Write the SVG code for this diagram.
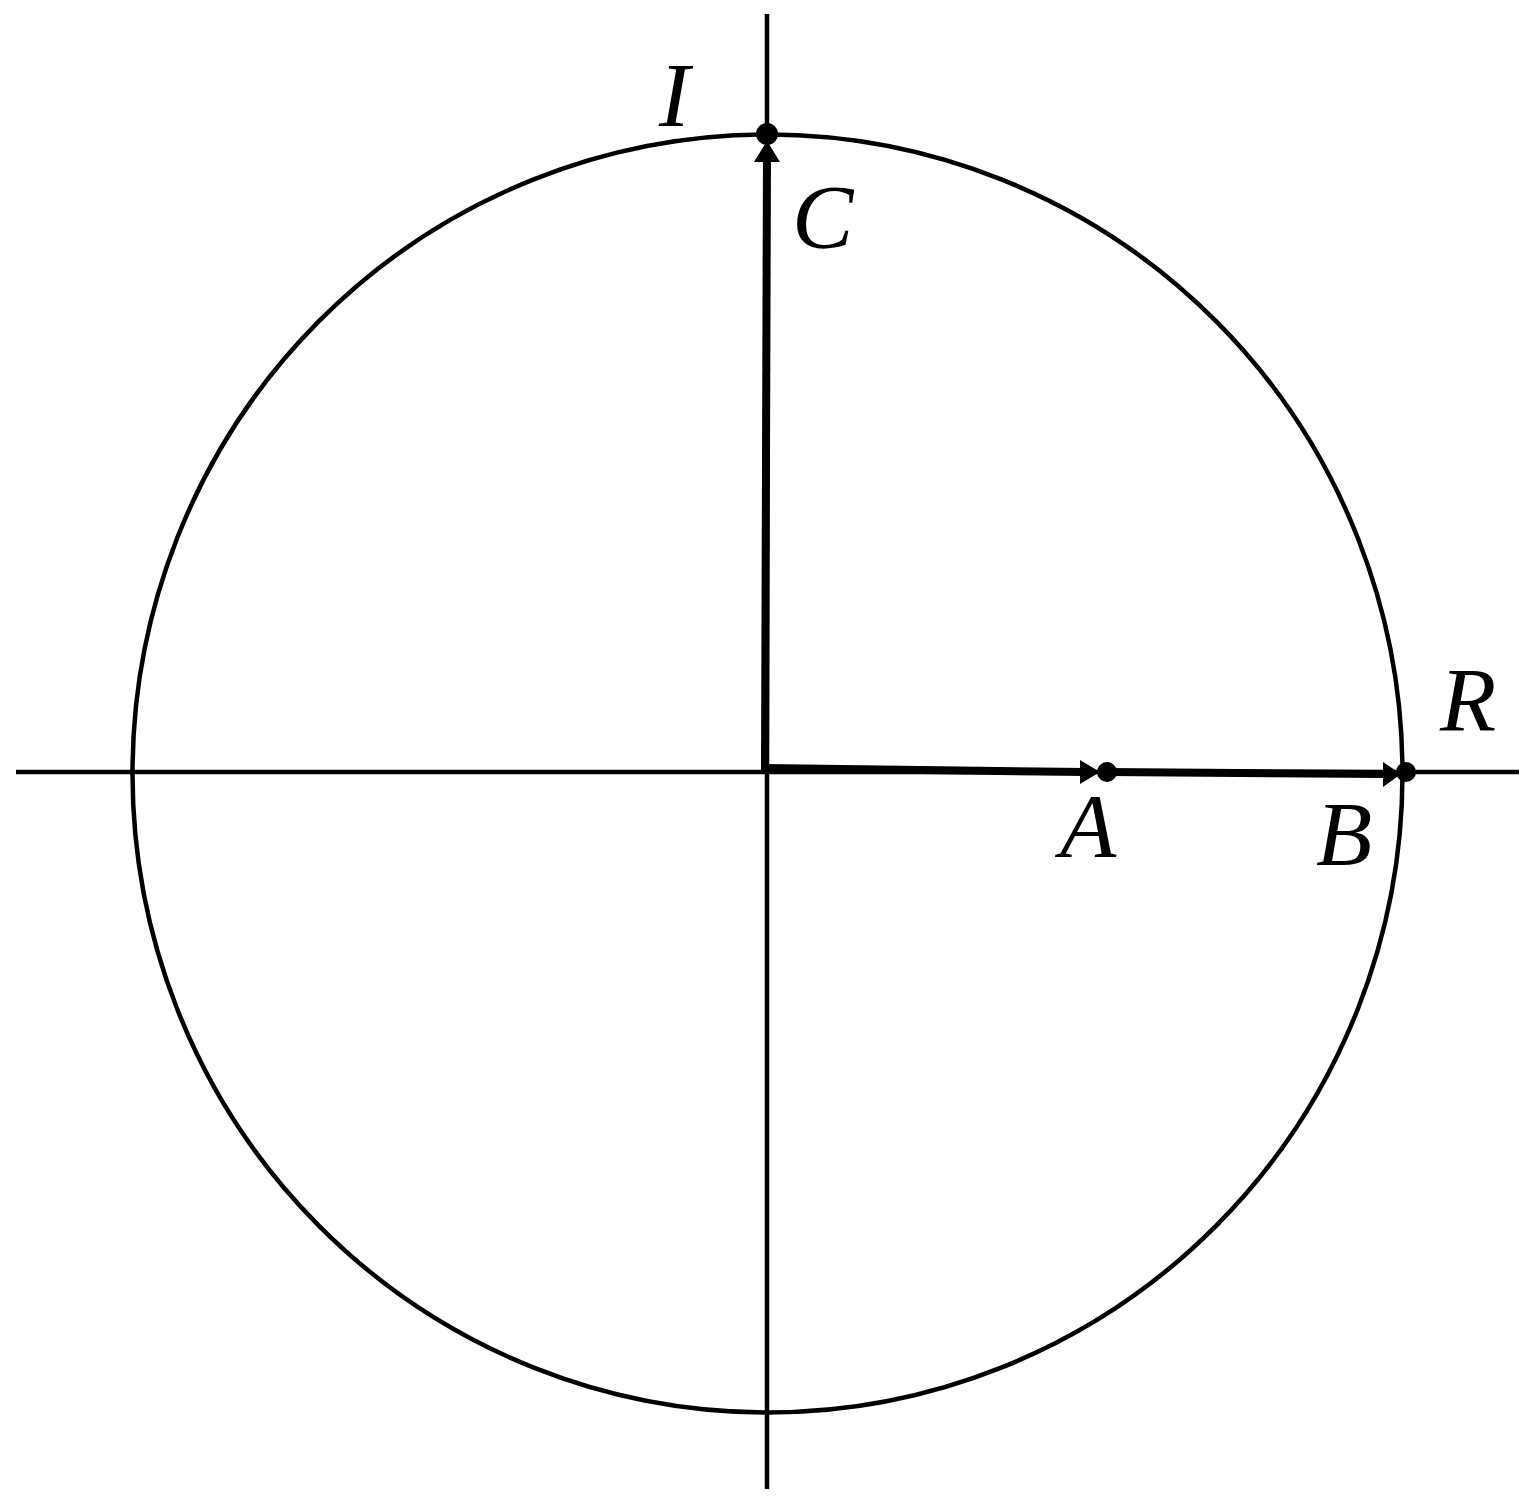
<svg xmlns="http://www.w3.org/2000/svg" width="1532" height="1502" viewBox="0 0 1532 1502">
<style>
.thin{stroke:#000;stroke-width:4.5;fill:none}
.vec{stroke:#000;stroke-width:8;fill:none}
.lbl{font-family:'Liberation Serif','Times New Roman',Times,serif;font-style:italic;font-weight:normal;font-size:92px;fill:#000}
.dot{fill:#000}
</style>
<rect width="1532" height="1502" fill="#fff"/>
<g id="axes">
<line class="thin" x1="16" y1="772" x2="1519" y2="772"/>
<line class="thin" x1="767" y1="14" x2="767" y2="1489"/>
</g>
<g id="circle">
<ellipse class="thin" cx="767.5" cy="773.5" rx="635" ry="639"/>
</g>
<g id="connectors">
<line class="vec" x1="765" y1="772" x2="767" y2="150"/>
<polygon points="767,141 754,162 780,162"/>
<line class="vec" x1="765" y1="768" x2="1085" y2="772"/>
<polygon points="1100,772 1080,760 1080,784"/>
<line class="vec" x1="1107" y1="772" x2="1387" y2="774"/>
<polygon points="1401,774 1383,762 1383,787"/>
</g>
<g id="points">
<circle class="dot" cx="767" cy="134" r="11"/>
<circle class="dot" cx="1107" cy="772" r="10"/>
<circle class="dot" cx="1406" cy="772" r="10"/>
</g>
<g id="labels">
<text class="lbl" font-family="Liberation Serif" x="659" y="126">I</text>
<text class="lbl" font-family="Liberation Serif" x="792" y="248">C</text>
<text class="lbl" font-family="Liberation Serif" x="1060" y="857">A</text>
<text class="lbl" font-family="Liberation Serif" x="1316" y="865">B</text>
<text class="lbl" font-family="Liberation Serif" x="1440" y="731">R</text>
</g>
</svg>
